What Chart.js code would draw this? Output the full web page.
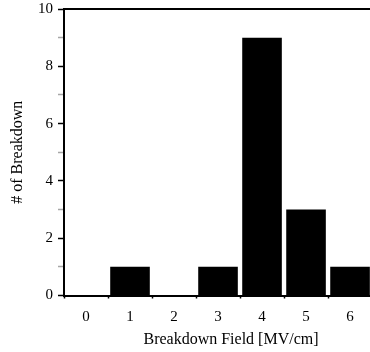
<!DOCTYPE html>
<html>
<head>
<meta charset="utf-8">
<script src="https://cdn.jsdelivr.net/npm/chart.js@4/dist/chart.umd.min.js"></script>
<style>
  html, body { margin: 0; padding: 0; background: #fff; overflow: hidden; }
  #wrap { width: 370px; height: 352px; overflow: hidden; position: relative; }
  canvas { display: block; }
</style>
</head>
<body>
<div id="wrap"><canvas id="c" width="400" height="352"></canvas></div>
<script>
const fields = [0, 1, 2, 3, 4, 5, 6];
const counts = [0, 1, 0, 1, 9, 3, 1];
const yTickLabels = [0, 2, 4, 6, 8, 10];
const xTitle = 'Breakdown Field [MV/cm]';
const yTitle = '# of Breakdown';

Chart.defaults.font.family = "'Liberation Serif', 'DejaVu Serif', serif";
Chart.defaults.color = '#000';

const isInt = v => Math.abs(v - Math.round(v)) < 1e-6;

new Chart(document.getElementById('c'), {
  type: 'bar',
  data: {
    datasets: [{
      data: fields.map((f, i) => ({ x: f, y: counts[i] })),
      backgroundColor: '#000',
      borderWidth: 0,
      barPercentage: 0.9,
      categoryPercentage: 1.0
    }]
  },
  options: {
    responsive: false,
    animation: false,
    devicePixelRatio: 1,
    layout: { padding: { left: 0, right: 2, top: 1, bottom: 0 } },
    plugins: { legend: { display: false }, tooltip: { enabled: false } },
    scales: {
      x: {
        type: 'linear',
        position: 'bottom',
        offset: false,
        bounds: 'data',
        min: -0.5,
        max: 7.09,
        afterBuildTicks: s => { s.ticks = fields.map(v => ({ value: v })); },
        afterFit: s => { s.height = 56.5; s.paddingLeft = 0; s.paddingRight = 0; },
        border: { display: true, color: '#000', width: 2 },
        grid: {
          offset: true,
          drawOnChartArea: false,
          drawTicks: true,
          tickLength: 3,
          tickWidth: 1.5,
          tickColor: '#000'
        },
        ticks: {
          autoSkip: false,
          maxRotation: 0,
          padding: 10,
          font: { size: 15 },
          callback: v => String(v)
        },
        title: {
          display: true,
          text: xTitle,
          font: { size: 16 },
          padding: { top: 0, bottom: 3 }
        }
      },
      xTop: {
        type: 'linear',
        position: 'top',
        offset: false,
        bounds: 'data',
        min: -0.5,
        max: 7.09,
        afterFit: s => { s.height = 8; },
        border: { display: true, color: '#000', width: 2 },
        grid: { display: false, drawTicks: false },
        ticks: { display: false }
      },
      y: {
        min: 0,
        max: 10,
        afterFit: s => { s.width = 64; s.paddingTop = 0; s.paddingBottom = 0; },
        border: { display: true, color: '#000', width: 2 },
        grid: {
          drawOnChartArea: false,
          tickLength: 6,
          tickWidth: 1.5,
          tickColor: ctx => (ctx.tick && isInt(ctx.tick.value) && yTickLabels.includes(Math.round(ctx.tick.value))) ? '#000' : 'rgba(0,0,0,0.35)'
        },
        ticks: {
          stepSize: 1,
          padding: 5,
          font: { size: 15 },
          callback: v => yTickLabels.includes(v) ? String(v) : ''
        },
        title: {
          display: true,
          text: yTitle,
          font: { size: 16 },
          padding: { top: 8, bottom: 0 }
        }
      }
    }
  }
});
</script>
</body>
</html>
